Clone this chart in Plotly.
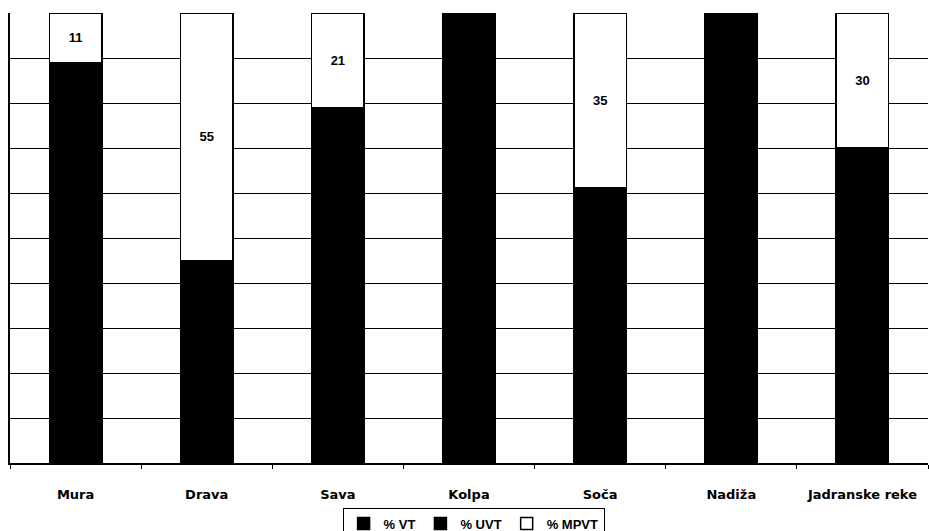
import plotly.graph_objects as go

categories = ["Mura", "Drava", "Sava", "Kolpa", "Soča", "Nadiža", "Jadranske reke"]
vt = [89, 45, 79, 100, 55, 100, 70]
uvt = [0, 0, 0, 0, 0, 0, 0]
mpvt = [11, 55, 21, 0, 35, 0, 30]
mpvt_labels = ["11", "55", "21", "", "35", "", "30"]

label_font = "Liberation Sans, Arial, sans-serif"
axis_font = "DejaVu Sans, Verdana, sans-serif"

fig = go.Figure()
fig.add_trace(go.Bar(x=categories, y=vt, name="<b>% VT</b>",
                     marker=dict(color="black", line=dict(color="black", width=1.5))))
fig.add_trace(go.Bar(x=categories, y=uvt, name="<b>% UVT</b>",
                     marker=dict(color="black", line=dict(color="black", width=1.5))))
fig.add_trace(go.Bar(x=categories, y=mpvt, name="<b>% MPVT</b>",
                     text=[f"<b>{t}</b>" for t in mpvt_labels],
                     textposition="inside", insidetextanchor="middle",
                     textfont=dict(color="black", size=13, family=label_font),
                     marker=dict(color="white", line=dict(color="black", width=1.5))))

fig.update_layout(
    width=929, height=531,
    barmode="stack", barnorm="percent", bargap=0.6,
    paper_bgcolor="white", plot_bgcolor="white",
    margin=dict(l=10, r=1, t=13, b=68, autoexpand=False),
    font=dict(family=label_font, color="black", size=12),
    showlegend=True,
    legend=dict(orientation="h", xref="paper", x=0.505, xanchor="center",
                yref="container", y=0.044, yanchor="top",
                bordercolor="black", borderwidth=1,
                font=dict(size=13, family=label_font),
                itemwidth=30, tracegroupgap=0, traceorder="normal"),
)
fig.update_xaxes(showline=True, linecolor="black", linewidth=1.5,
                 ticks="outside", ticklen=4, tickcolor="black", tickson="boundaries",
                 ticklabelstandoff=19, automargin=False,
                 tickfont=dict(size=13, family=axis_font),
                 tickvals=categories, ticktext=[f"<b>{c}</b>" for c in categories],
                 showgrid=False)
fig.update_yaxes(range=[0, 100], dtick=10, showticklabels=False,
                 showgrid=True, gridcolor="black", gridwidth=1,
                 showline=True, linecolor="black", linewidth=1.5,
                 zeroline=False, automargin=False)

fig.write_html("out.html",
               config={"displayModeBar": False},
               post_script="document.body.style.margin='0';"
                           "document.documentElement.style.overflow='hidden';"
                           "document.body.style.overflow='hidden';")
